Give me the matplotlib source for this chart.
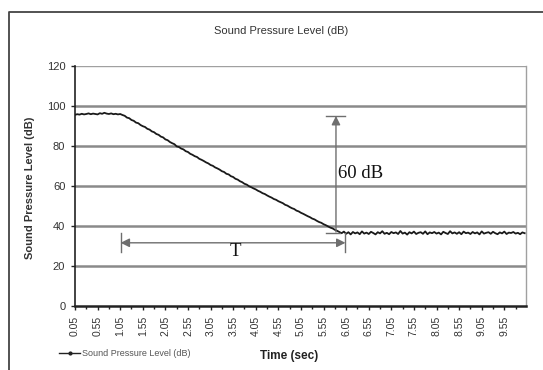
import matplotlib
matplotlib.use("Agg")
import matplotlib.pyplot as plt
from matplotlib.lines import Line2D
import numpy as np

# ---- data (sample every 0.05 s, starting at 0.05 s) ----
flat_part = [95.6, 95.9, 95.7, 96.1, 95.8, 96.0, 96.3, 95.9, 96.2, 96.0, 95.8, 96.4, 96.1,
             96.6, 96.2, 96.0, 96.3, 95.9, 96.1, 95.8, 96.0]
decay_part = [95.5, 95.1, 94.2, 93.9, 93.0, 92.6, 91.7, 91.4, 90.5, 89.9, 89.5, 88.6, 88.2,
              87.3, 86.9, 86.0, 85.6, 84.7, 84.3, 83.3, 82.9, 82.0, 81.4, 80.9, 79.8, 79.5,
              78.7, 78.3, 77.4, 77.0, 76.1, 75.6, 74.9, 74.5, 73.6, 73.1, 72.5, 71.8, 71.3,
              70.5, 70.1, 69.3, 68.8, 68.2, 67.4, 67.0, 66.1, 65.8, 64.9, 64.5, 63.6, 63.2,
              62.4, 61.9, 61.1, 60.7, 59.9, 59.4, 58.8, 58.3, 57.6, 57.1, 56.4, 56.0, 55.3,
              54.7, 54.2, 53.5, 53.1, 52.4, 51.9, 51.4, 50.6, 50.2, 49.5, 48.9, 48.5, 47.7,
              47.3, 46.6, 46.1, 45.5, 44.9, 44.4, 43.7, 43.3, 42.6, 42.0, 41.6, 40.9, 40.4,
              39.8, 39.2, 38.8, 38.1, 37.6, 37.0]
floor_part = [36.4, 37.2, 36.1, 36.9, 35.8, 37.0, 36.3, 36.8, 35.9, 37.3, 36.2, 36.7, 36.0, 37.1,
              36.5, 35.8, 36.9, 36.3, 37.4, 36.1,
              36.6, 35.9, 37.0, 36.4, 36.8, 36.0, 37.5, 36.2, 36.7, 35.7, 36.9, 36.3, 37.2, 36.0,
              36.6, 36.9, 36.1, 37.3, 35.9, 36.8,
              36.4, 37.0, 36.2, 36.7, 35.8, 37.1, 36.5, 36.0, 37.4, 36.3, 36.8, 36.1, 36.9, 35.9,
              37.2, 36.4, 36.7, 36.0, 37.0, 36.3,
              36.8, 35.8, 37.3, 36.2, 36.6, 36.9, 36.1, 37.1, 36.4, 35.9, 36.8, 36.3, 37.2, 36.0,
              36.7, 36.5, 37.0, 36.2, 36.6, 35.9,
              36.8, 36.4]
spl = flat_part + decay_part + floor_part

x_tick_labels = ["0.05", "0.55", "1.05", "1.55", "2.05", "2.55", "3.05", "3.55", "4.05", "4.55",
                 "5.05", "5.55", "6.05", "6.55", "7.05", "7.55", "8.05", "8.55", "9.05", "9.55"]
y_ticks = [0, 20, 40, 60, 80, 100, 120]

title = "Sound Pressure Level (dB)"
series_name = "Sound Pressure Level (dB)"
x_label = "Time (sec)"
y_label = "Sound Pressure Level (dB)"

plt.rcParams['font.family'] = ['Liberation Sans', 'DejaVu Sans']

W, H = 543, 370
fig = plt.figure(figsize=(W / 100, H / 100), dpi=100)

def fx(px):
    return px / W

def fy(py):
    return 1 - py / H

ax = fig.add_axes([fx(75), fy(306), fx(526) - fx(75), fy(66) - fy(306)])

idx = np.arange(len(spl))
ax.plot(idx, spl, color="#1a1a1a", lw=1.3, zorder=3)

ax.set_xlim(0, 199.6)
ax.set_ylim(0, 120)

# gridlines
for v in y_ticks[1:-1]:
    ax.axhline(v, color="#8a8a8a", lw=1.8, zorder=1)
ax.axhline(120, color="#a0a0a0", lw=1.0, zorder=1)

ax.spines['top'].set_visible(False)
ax.spines['right'].set_color("#a0a0a0")
ax.spines['right'].set_linewidth(1.0)
ax.spines['left'].set_color("#222222")
ax.spines['left'].set_linewidth(1.2)
ax.spines['bottom'].set_color("#222222")
ax.spines['bottom'].set_linewidth(1.8)

ax.set_yticks(y_ticks)
ax.set_yticklabels([str(v) for v in y_ticks], fontsize=8, color="#333333")
tick_pos = [i * 10 for i in range(len(x_tick_labels))]
ax.set_xticks(tick_pos)
ax.set_xticklabels(x_tick_labels, rotation=90, fontsize=7.5, color="#333333")
ax.set_xticks([i * 5 for i in range(40)], minor=True)
ax.tick_params(axis='x', which='major', length=3, width=1, color="#222222", pad=4)
ax.tick_params(axis='x', which='minor', length=2, width=1, color="#222222")
ax.tick_params(axis='y', length=3, width=1, color="#222222", pad=4)

# annotations: 60 dB vertical arrow
ac = "#6e6e6e"
ax.annotate("", xy=(115.5, 95), xytext=(115.5, 37),
            arrowprops=dict(arrowstyle="-|>", color=ac, lw=1.0, mutation_scale=13,
                            shrinkA=0, shrinkB=0), zorder=4)
ax.plot([111, 119.5], [95, 95], color=ac, lw=1.0, zorder=4)
ax.plot([111, 117.5], [36.5, 36.5], color=ac, lw=1.0, zorder=4)
ax.text(116.4, 66.5, "60 dB", family="Liberation Serif", fontsize=13.5,
        ha="left", va="center", color="#111111", zorder=5)

# T horizontal arrow
ax.annotate("", xy=(20.2, 31.6), xytext=(119.7, 31.6),
            arrowprops=dict(arrowstyle="<|-|>", color=ac, lw=1.0, mutation_scale=13,
                            shrinkA=0, shrinkB=0), zorder=4)
ax.plot([20.2, 20.2], [27, 36.5], color=ac, lw=1.0, zorder=4)
ax.plot([119.7, 119.7], [27, 36.5], color=ac, lw=1.0, zorder=4)
ax.text(71, 27.2, "T", family="Liberation Serif", fontsize=13.5,
        ha="center", va="center", color="#111111", zorder=5)

# texts
fig.text(fx(281), fy(31), title, ha="center", va="center", fontsize=8, color="#333333")
fig.text(fx(30), fy(188), y_label, rotation=90, ha="center", va="center",
         fontsize=8, fontweight="bold", color="#333333")
fig.text(fx(289), fy(356), x_label, ha="center", va="center",
         fontsize=8.5, fontweight="bold", color="#222222")

# legend
fig.add_artist(Line2D([fx(59), fx(80)], [fy(353), fy(353)], color="#222222", lw=1.0))
fig.add_artist(Line2D([fx(69.5)], [fy(353)], color="#222222", marker='o', markersize=2))
fig.text(fx(82), fy(353), series_name, ha="left", va="center", fontsize=6.5, color="#555555")

# outer frame
fig.add_artist(Line2D([fx(9), fx(9), fx(543)], [fy(370), fy(12), fy(12)],
                      color="#444444", lw=1.3))

fig.savefig("out.png", dpi=100, facecolor="white")
